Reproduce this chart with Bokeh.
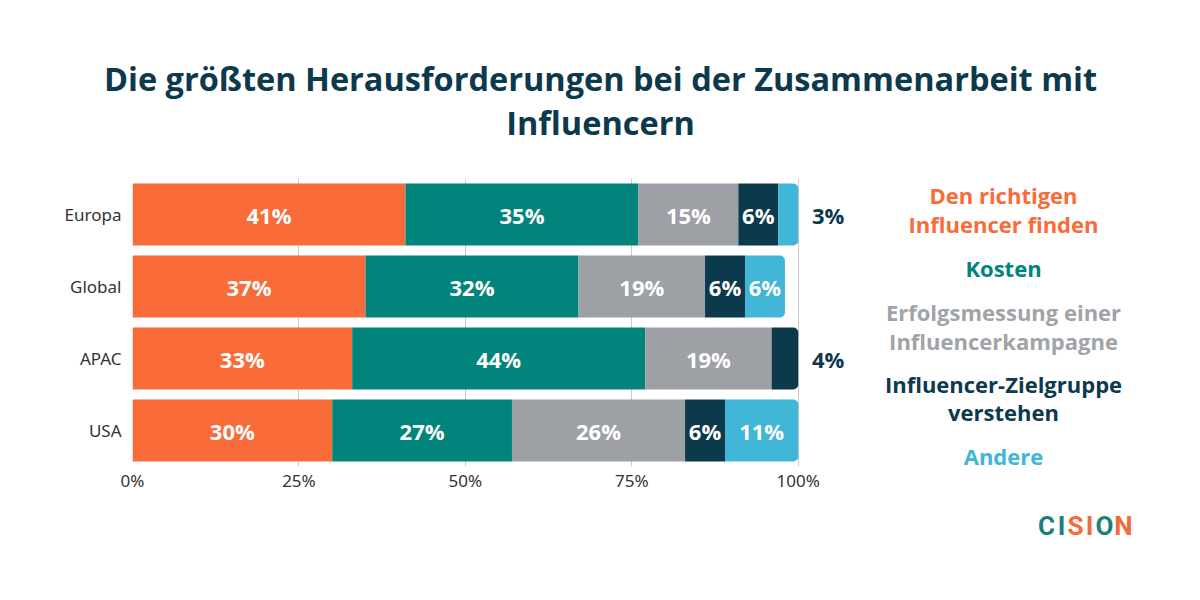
from bokeh.plotting import figure
from bokeh.models import ColumnDataSource, Range1d, FactorRange, FixedTicker, PrintfTickFormatter
from bokeh.layouts import column, row
from bokeh.embed import file_html
from bokeh.resources import INLINE
from bokeh.core.properties import value

# ---------------- data ----------------
regions = ["Europa", "Global", "APAC", "USA"]
series_names = ["Den richtigen Influencer finden", "Kosten",
                "Erfolgsmessung einer Influencerkampagne",
                "Influencer-Zielgruppe verstehen", "Andere"]
finden = [41, 35, 33, 30]          # bar widths as drawn
finden_labels = ["41%", "37%", "33%", "30%"]   # labels as printed
kosten = [35, 32, 44, 27]
erfolg = [15, 19, 19, 26]
zielgruppe = [6, 6, 4, 6]
andere = [3, 6, 0, 11]
colors = ["#F96B38", "#00847B", "#9DA0A5", "#0D394C", "#41B6D7"]
legend_lines = [["Den richtigen", "Influencer finden"], ["Kosten"],
                ["Erfolgsmessung einer", "Influencerkampagne"],
                ["Influencer-Zielgruppe", "verstehen"], ["Andere"]]
legend_colors = ["#F96B38", "#00847B", "#A0A3A8", "#0D394C", "#41B6D7"]
x_ticks = [0, 25, 50, 75, 100]
title_lines = ["Die größten Herausforderungen bei der Zusammenarbeit mit", "Influencern"]
logo_letters = ["C", "I", "S", "I", "O", "N"]
logo_colors = ["#1B7F7B", "#1B7F7B", "#F26B3A", "#F26B3A", "#1B7F7B", "#F26B3A"]

NAVY = "#0D394C"
FONT = "Open Sans"
TOTAL_W = 1184
TITLE_H = 165
FRAME_TOP, FRAME_BOT = 178, 466
BORDER_TOP = FRAME_TOP - TITLE_H
BORDER_BOT = 34
BODY_H = FRAME_BOT - TITLE_H + BORDER_BOT
FOOT_H = 584 - TITLE_H - BODY_H
X_MAX = 108
PX_PER_UNIT = 6.66
MAIN_W = 132 + int(round(X_MAX * PX_PER_UNIT))
LEG_W = TOTAL_W - MAIN_W

series_vals = [finden, kosten, erfolg, zielgruppe, andere]
series_labels = [finden_labels] + [[f"{v}%" for v in s] for s in series_vals[1:]]

# build segments
seg = dict(y=[], left=[], right=[], color=[])
last = dict(y=[], left=[], right=[], color=[])
lab_in = dict(x=[], y=[], t=[])
lab_out = dict(x=[], y=[], t=[])
for i, r in enumerate(regions):
    vals = [s[i] for s in series_vals]
    last_idx = max(k for k, v in enumerate(vals) if v > 0)
    cum = 0
    for k, v in enumerate(vals):
        if v <= 0:
            continue
        target = last if k == last_idx else seg
        target["y"].append(r)
        target["left"].append(cum)
        target["right"].append(cum + v)
        target["color"].append(colors[k])
        if v >= 5:
            lab_in["x"].append(cum + v / 2)
            lab_in["y"].append(r)
            lab_in["t"].append(series_labels[k][i])
        else:
            lab_out["x"].append(cum + v + 4.5)
            lab_out["y"].append(r)
            lab_out["t"].append(series_labels[k][i])
        cum += v


def blank(width, height, y0=0, y1=None, bt=0, bb=0):
    f = figure(width=width, height=height, output_backend="svg", toolbar_location=None,
               x_range=Range1d(0, width),
               y_range=Range1d(y1 if y1 is not None else height, y0),
               x_axis_type=None, y_axis_type=None, min_border=0,
               min_border_top=bt, min_border_bottom=bb)
    f.outline_line_color = None
    f.grid.grid_line_color = None
    f.background_fill_color = "white"
    f.border_fill_color = "white"
    return f


# ---------------- title ----------------
t = blank(TOTAL_W, TITLE_H)
t.text(x=[600, 600], y=[78, 122], text=title_lines, text_align="center",
       text_baseline="middle", text_font=value(FONT), text_font_style="bold",
       text_font_size="32.5px", text_color=NAVY)

# ---------------- main chart ----------------
p = figure(width=MAIN_W, height=BODY_H, output_backend="svg", toolbar_location=None,
           y_range=FactorRange(*reversed(regions)), x_range=Range1d(0, X_MAX),
           min_border_left=132, min_border_right=0, min_border_top=BORDER_TOP,
           min_border_bottom=BORDER_BOT)
p.outline_line_color = None
p.background_fill_color = "white"
p.border_fill_color = "white"

p.hbar(y="y", left="left", right="right", height=0.86, color="color",
       line_color=None, source=ColumnDataSource(seg))
p.hbar(y="y", left="left", right="right", height=0.86, color="color",
       line_color=None, border_radius=(0, 5, 5, 0), source=ColumnDataSource(last))

p.text(x="x", y="y", text="t", source=ColumnDataSource(lab_in), text_color="white",
       text_align="center", text_baseline="middle", text_font=value(FONT),
       text_font_style="bold", text_font_size="22px")
p.text(x="x", y="y", text="t", source=ColumnDataSource(lab_out), text_color=NAVY,
       text_align="center", text_baseline="middle", text_font=value(FONT),
       text_font_style="bold", text_font_size="22px")

p.xaxis.ticker = FixedTicker(ticks=x_ticks)
p.xaxis.formatter = PrintfTickFormatter(format="%d%%")
p.xaxis.axis_line_color = None
p.xaxis.major_tick_line_color = None
p.xaxis.minor_tick_line_color = None
p.xaxis.major_tick_out = 0
p.xaxis.major_label_standoff = 2
p.xaxis.major_label_text_font = "Noto Sans"
p.xaxis.major_label_text_font_size = "17px"
p.xaxis.major_label_text_color = "#333333"

p.yaxis.axis_line_color = None
p.yaxis.major_tick_line_color = None
p.yaxis.minor_tick_line_color = None
p.yaxis.major_tick_out = 0
p.yaxis.major_label_standoff = 11
p.yaxis.major_label_text_font = "Noto Sans"
p.yaxis.major_label_text_font_size = "17px"
p.yaxis.major_label_text_color = "#333333"

p.ygrid.grid_line_color = None
p.xgrid.ticker = FixedTicker(ticks=x_ticks)
p.xgrid.grid_line_color = "#CCCCCC"
p.xgrid.grid_line_width = 1

# ---------------- legend (frame spans page y FRAME_TOP..FRAME_BOT) ----------------
lg = blank(LEG_W, BODY_H, y0=FRAME_TOP, y1=FRAME_BOT, bt=BORDER_TOP, bb=BORDER_BOT)
legend_y = [[194, 223], [267], [311, 340], [383, 411], [455]]
lx, ly, lt, lc = [], [], [], []
for lines, ys, c in zip(legend_lines, legend_y, legend_colors):
    for txt, py in zip(lines, ys):
        lx.append(1003 - MAIN_W)
        ly.append(py)
        lt.append(txt)
        lc.append(c)
lg.text(x="x", y="y", text="t", text_color="c",
        source=ColumnDataSource(dict(x=lx, y=ly, t=lt, c=lc)),
        text_align="center", text_baseline="middle", text_font=value(FONT),
        text_font_style="bold", text_font_size="22px")

# ---------------- footer with logo ----------------
ft = blank(TOTAL_W, FOOT_H)
logo_x = [1046, 1061, 1075, 1089, 1104, 1123]
ft.text(x=logo_x, y=[525 - (TITLE_H + BODY_H)] * len(logo_letters), text=logo_letters,
        text_color=logo_colors, text_align="center", text_baseline="middle",
        text_font=value("Roboto"), text_font_style="bold",
        text_font_size="26px")

layout = column(t, row(p, lg), ft)
open("out.html", "w").write(file_html(layout, INLINE))
